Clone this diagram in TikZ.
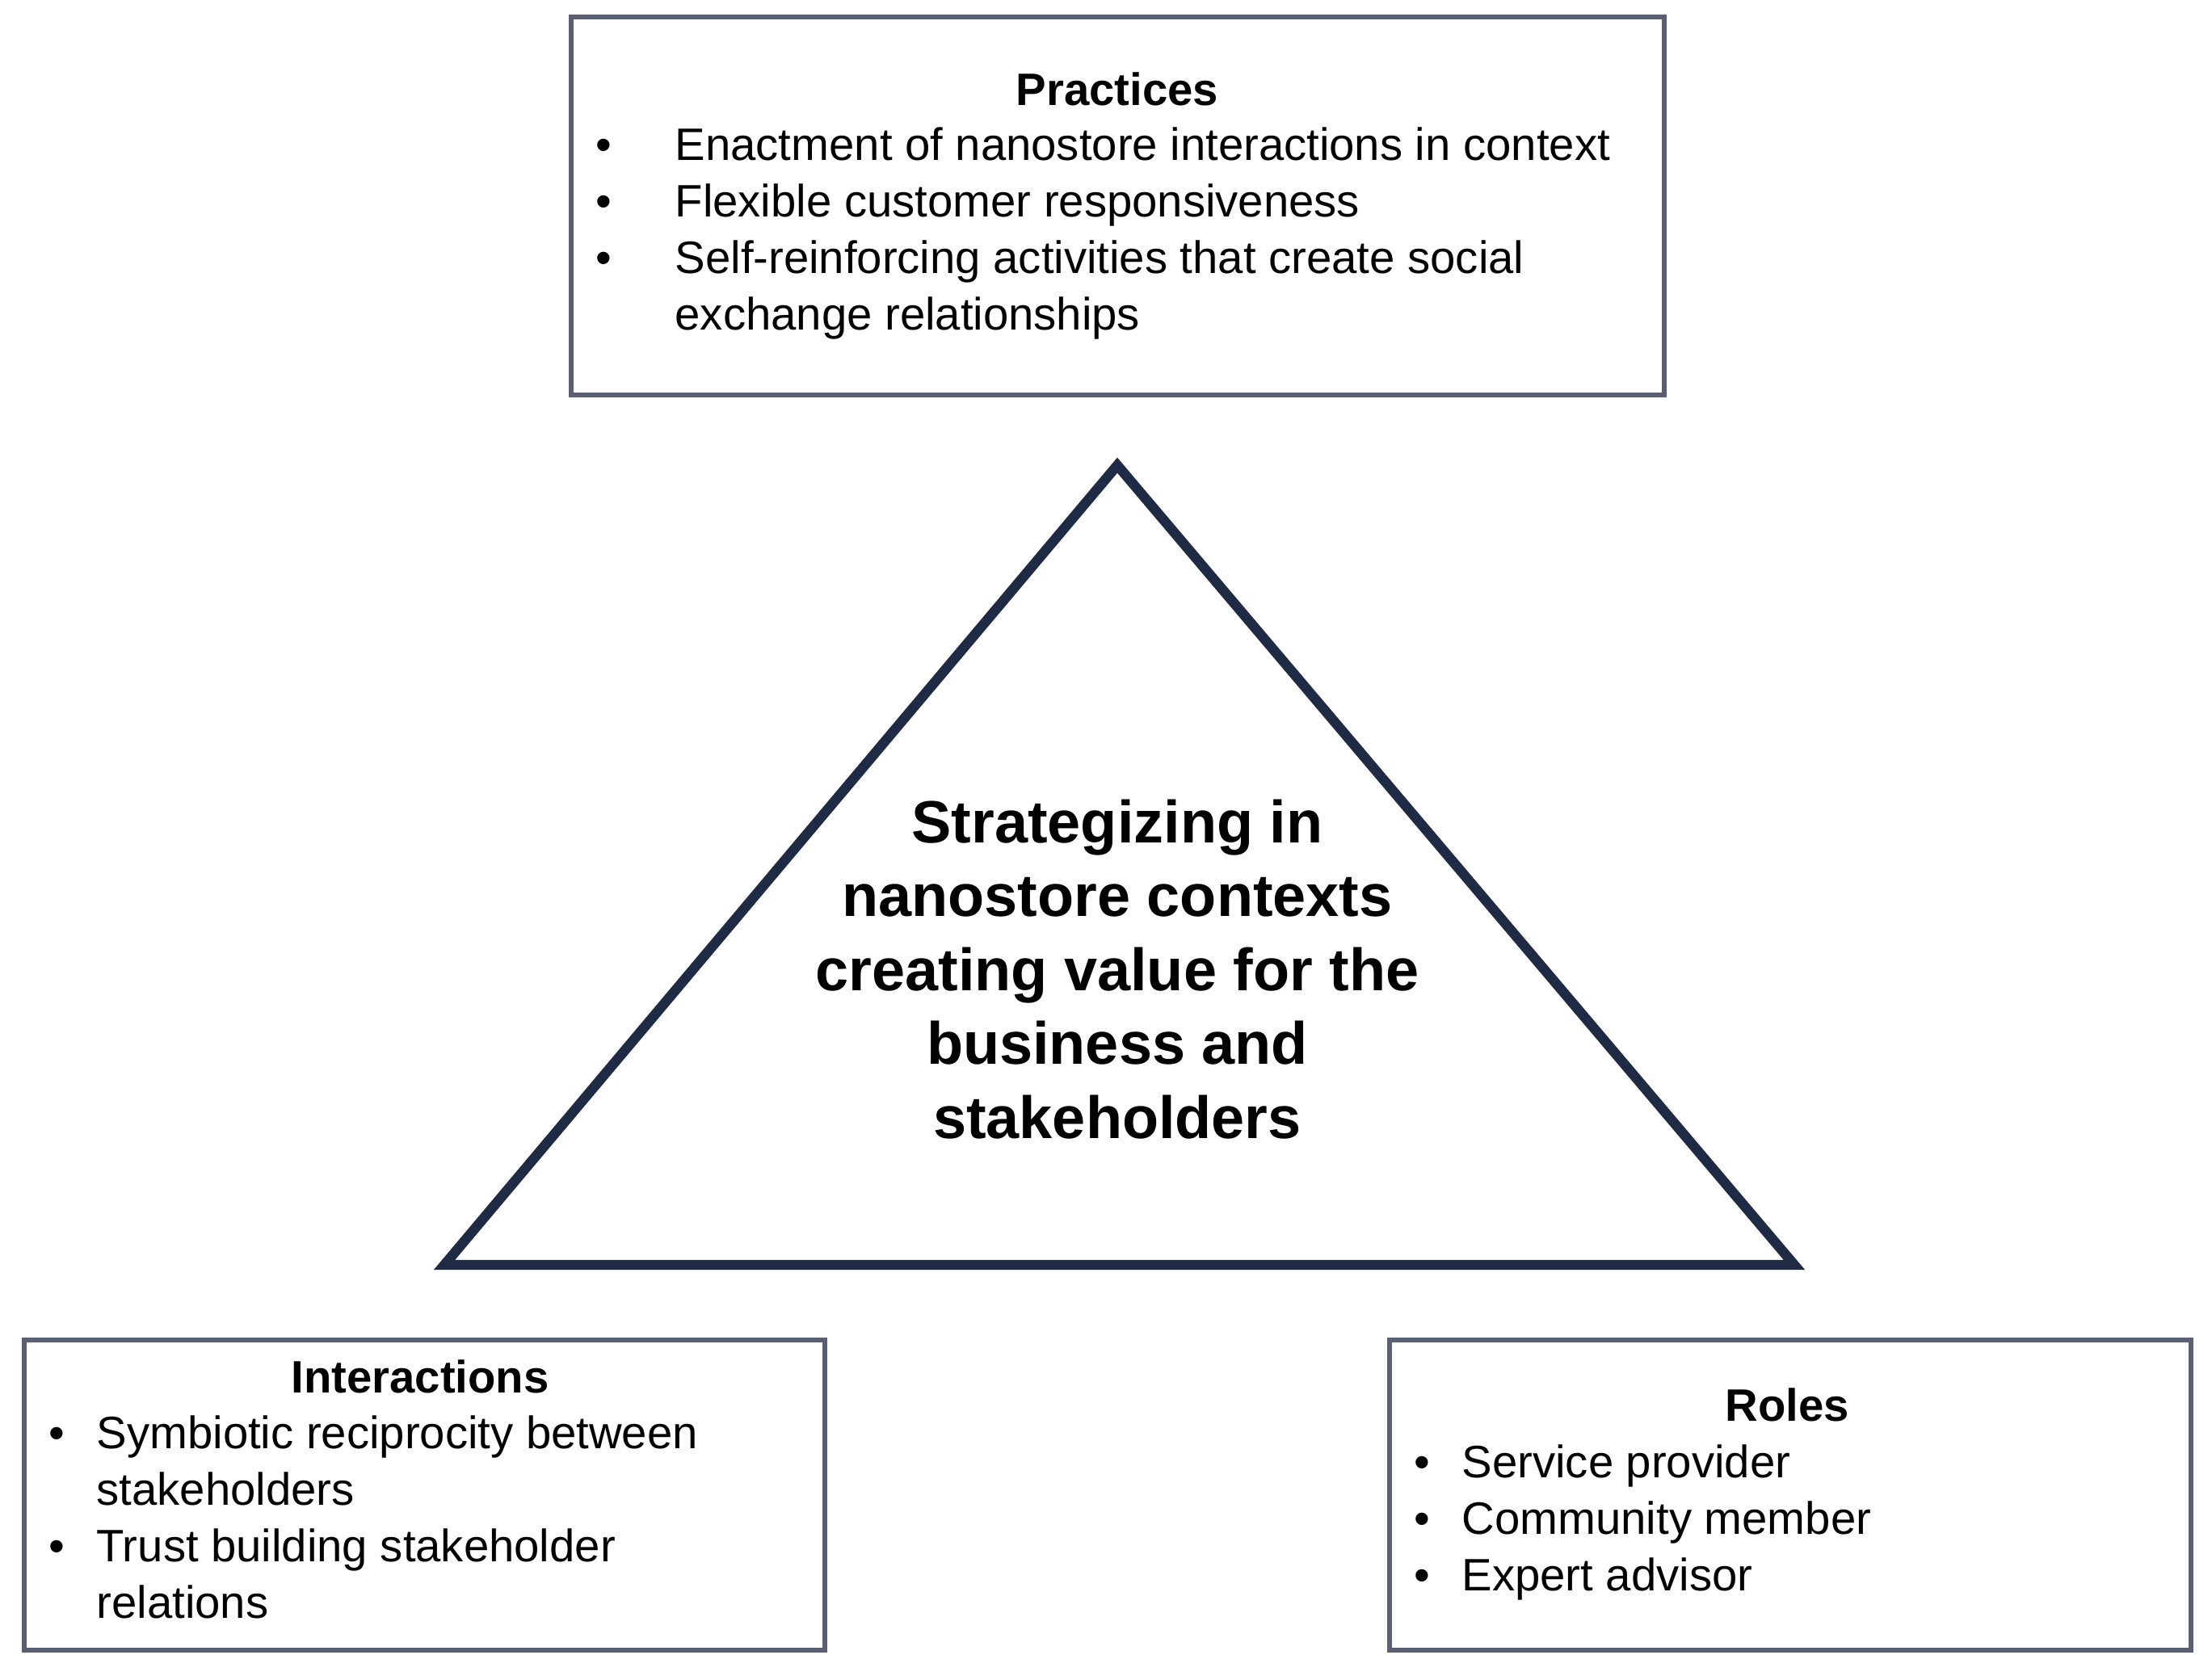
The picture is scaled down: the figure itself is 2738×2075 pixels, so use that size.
\documentclass[tikz,border=0pt]{standalone}
\usepackage{fontspec}
\setmainfont{Liberation Sans}
\begin{document}
\begin{tikzpicture}[x=0.01cm,y=-0.01cm,
  box/.style={draw=boxc,line width=1.6pt},
  tx/.style={anchor=base west,font=\fontsize{16}{19}\selectfont,inner sep=0},
  hd/.style={anchor=base,font=\bfseries\fontsize{16}{19}\selectfont,inner sep=0},
  bl/.style={anchor=base,font=\fontsize{16}{19}\selectfont,inner sep=0}]
\definecolor{boxc}{HTML}{5A5F73}
\definecolor{tric}{HTML}{1F2A44}
\useasboundingbox (0,0) rectangle (2738,2075);
\draw[box] (707,21) rectangle (2060,489);
\draw[box] (30,1659) rectangle (1021,2043);
\draw[box] (1720,1659) rectangle (2712,2043);
\coordinate (A) at (1383,576); \coordinate (B) at (550,1566); \coordinate (C) at (2221,1566);
\draw[tric,line width=3.5pt,line join=miter] (A) -- (B) -- (C) -- cycle;
\node[hd] (ph) at (1383,130) {Practices};
\foreach \y/\t [count=\i] in {198/Enactment of nanostore interactions in context,268/Flexible customer responsiveness,338/Self-reinforcing activities that create social}
 {\node[bl] (pb\i) at (747,\y) {•}; \node[tx] (pt\i) at (835,\y) {\t};}
\node[tx] (pt4) at (835,408) {exchange relationships};
\node[hd] (ih) at (520,1724) {Interactions};
\node[bl] (ib1) at (70,1793) {•}; \node[tx] (it1) at (119,1793) {Symbiotic reciprocity between};
\node[tx] (it2) at (119,1863) {stakeholders};
\node[bl] (ib2) at (70,1933) {•}; \node[tx] (it3) at (119,1933) {Trust building stakeholder};
\node[tx] (it4) at (119,2003) {relations};
\node[hd] (rh) at (2212,1759) {Roles};
\foreach \y/\t [count=\i] in {1829/Service provider,1899/Community member,1969/Expert advisor}
 {\node[bl] (rb\i) at (1760,\y) {•}; \node[tx] (rt\i) at (1809,\y) {\t};}
\node[align=center,font=\bfseries\fontsize{21}{26}\selectfont,inner sep=0] (t) at (1383,1200)
 {Strategizing in\\nanostore contexts\\creating value for the\\business and\\stakeholders};
\end{tikzpicture}
\end{document}
